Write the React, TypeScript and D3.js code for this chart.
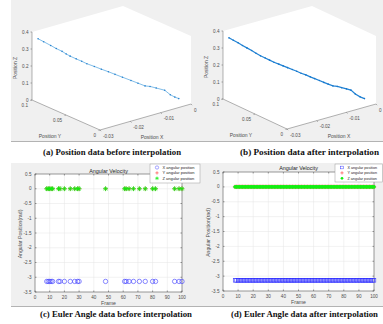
import React from "react"
import * as d3 from "d3"

// position data before interpolation (sparse samples)
const posXBefore = [-0.028, -0.0269, -0.0255, -0.0244, -0.0232, -0.0224, -0.0216, -0.0204, -0.0193, -0.0183, -0.0168, -0.0154, -0.014, -0.0127, -0.0112, -0.0095, -0.0081, -0.0067, -0.0057, -0.0045, -0.0028, -0.0017, -0.0008, 0]
const posYBefore = [0.1, 0.0967, 0.0926, 0.0893, 0.0861, 0.0836, 0.0814, 0.0779, 0.0746, 0.0715, 0.0672, 0.0631, 0.059, 0.0551, 0.0508, 0.0459, 0.0418, 0.0377, 0.0348, 0.0311, 0.0262, 0.0229, 0.0202, 0.018]
const posZBefore = [0.35, 0.333, 0.311, 0.293, 0.276, 0.261, 0.248, 0.232, 0.218, 0.204, 0.188, 0.172, 0.157, 0.142, 0.125, 0.106, 0.09, 0.074, 0.071, 0.062, 0.049, 0.023, 0.009, 0]

// position data after interpolation
const posXAfter = [-0.028, -0.0271, -0.0261, -0.0252, -0.0243, -0.0233, -0.0224, -0.0215, -0.0205, -0.0196, -0.0187, -0.0177, -0.0168, -0.0159, -0.0149, -0.014, -0.0131, -0.0121, -0.0112, -0.0103, -0.0093, -0.0084, -0.0075, -0.0065, -0.0056, -0.0047, -0.0037, -0.0028, -0.0019, -0.0009, 0]
const posYAfter = [0.1, 0.0973, 0.0945, 0.0918, 0.0891, 0.0863, 0.0836, 0.0809, 0.0781, 0.0754, 0.0727, 0.0699, 0.0672, 0.0645, 0.0617, 0.059, 0.0563, 0.0535, 0.0508, 0.0481, 0.0453, 0.0426, 0.0399, 0.0371, 0.0344, 0.0317, 0.0289, 0.0262, 0.0235, 0.0207, 0.018]
const posZAfter = [0.35, 0.336, 0.321, 0.306, 0.292, 0.277, 0.261, 0.246, 0.233, 0.221, 0.209, 0.198, 0.188, 0.178, 0.167, 0.157, 0.146, 0.136, 0.125, 0.115, 0.104, 0.093, 0.083, 0.073, 0.07, 0.063, 0.056, 0.049, 0.027, 0.01, 0]

const zTicks = [0, 0.1, 0.2, 0.3, 0.4]
const yTicks3d = [0.1, 0.05, 0]
const xTicks3d = [-0.03, -0.02, -0.01, 0]

// euler angles
const framesBefore = [8, 9, 10, 11, 12, 16, 17, 20, 24, 27, 29, 30, 48, 61, 62, 64, 67, 71, 75, 80, 82, 95, 98, 100]
const framesAfter = d3.range(8, 101)
const X_ANGLE = -3.1416
const Y_ANGLE = 0
const Z_ANGLE = 0
const angleTicks = [0.5, 0, -0.5, -1, -1.5, -2, -2.5, -3, -3.5]
const frameTicks = [0, 10, 20, 30, 40, 50, 60, 70, 80, 90, 100]
const legendNames = ["X angular position", "Y angular position", "Z angular position"]

const captions = [
  "(a) Position data before interpolation",
  "(b) Position data after interpolation",
  "(c) Euler Angle data before interpolation",
  "(d) Euler Angle data after interpolation",
]

const sans = "Liberation Sans, Arial, sans-serif"
const tickCol = "#4d4d4d"

function Position3D({ L, F, R, xs, ys, zs, thin }) {
  const su = d3.scaleLinear().domain([-0.03, 0]).range([0, 1])
  const sv = d3.scaleLinear().domain([0.1, 0]).range([0, 1])
  const sz = d3.scaleLinear().domain([0, 0.4]).range([0, 68])
  const proj = (x, y, z) => [
    L[0] + su(x) * (R[0] - F[0]) + sv(y) * (F[0] - L[0]),
    L[1] + su(x) * (R[1] - F[1]) + sv(y) * (F[1] - L[1]) - sz(z),
  ]
  const hex = [
    proj(-0.03, 0.1, 0.4), proj(0, 0.1, 0.4), proj(0, 0, 0.4),
    proj(0, 0, 0), proj(-0.03, 0, 0), proj(-0.03, 0.1, 0),
  ]
  const pts = xs.map((x, i) => proj(x, ys[i], zs[i]))
  const line = d3.line()(pts)
  const top = proj(-0.03, 0.1, 0.4)
  return (
    <g fontFamily={sans} fontSize={4.6} fill={tickCol}>
      <polygon points={hex.map(p => p.join(",")).join(" ")} fill="#fff" />
      <line x1={L[0]} y1={L[1]} x2={top[0]} y2={top[1]} stroke="#666" strokeWidth={0.5} />
      <line x1={L[0]} y1={L[1]} x2={F[0]} y2={F[1]} stroke="#666" strokeWidth={0.5} />
      <line x1={F[0]} y1={F[1]} x2={R[0]} y2={R[1]} stroke="#666" strokeWidth={0.5} />
      {zTicks.map(t => {
        const p = proj(-0.03, 0.1, t)
        return (
          <g key={"z" + t}>
            <line x1={p[0] - 1.5} y1={p[1]} x2={p[0]} y2={p[1]} stroke="#666" strokeWidth={0.5} />
            <text x={p[0] - 3.5} y={p[1] + 1.6} textAnchor="end">{t}</text>
          </g>
        )
      })}
      {yTicks3d.map(t => {
        const p = proj(-0.03, t, 0)
        return (
          <g key={"y" + t}>
            <line x1={p[0]} y1={p[1]} x2={p[0] - 1.5} y2={p[1] + 0.5} stroke="#666" strokeWidth={0.5} />
            <text x={p[0] - 4} y={p[1] + 6.6} textAnchor="end">{t}</text>
          </g>
        )
      })}
      {xTicks3d.map(t => {
        const p = proj(t, 0, 0)
        return (
          <g key={"x" + t}>
            <line x1={p[0]} y1={p[1]} x2={p[0] + 1.2} y2={p[1] + 1.2} stroke="#666" strokeWidth={0.5} />
            <text x={p[0] + 3} y={p[1] + 7.6}>{t}</text>
          </g>
        )
      })}
      <text transform={`translate(${L[0] - 15},${L[1] - 32}) rotate(-90)`} textAnchor="middle" fontSize={5}>Position Z</text>
      <text x={L[0] + 18} y={L[1] + 38} textAnchor="middle" fontSize={5}>Position Y</text>
      <text x={F[0] + 52} y={F[1] + 9} textAnchor="middle" fontSize={5}>Position X</text>
      <path d={line} fill="none" stroke={thin ? "#4aa0de" : "#2283d4"} strokeWidth={thin ? 0.7 : 1.2} />
      {pts.map((p, i) => (
        <circle key={i} cx={p[0]} cy={p[1]} r={thin ? 0.8 : 0.8} fill={thin ? "#2a84cf" : "#1677cc"} />
      ))}
    </g>
  )
}

const starPath = "M-2.4,0H2.4M0,-2.4V2.4M-1.7,-1.7L1.7,1.7M-1.7,1.7L1.7,-1.7"
const plusPath = "M-2.2,0H2.2M0,-2.2V2.2"

function Marker({ kind }) {
  if (kind === "circle") return <circle r={2.2} fill="none" stroke="#3b3bff" strokeWidth={0.6} />
  if (kind === "square") return <rect x={-1.8} y={-1.8} width={3.6} height={3.6} fill="none" stroke="#3030ff" strokeWidth={0.6} />
  if (kind === "plus") return <path d={plusPath} stroke="#ff2020" strokeWidth={0.7} />
  if (kind === "star") return <path d={starPath} stroke="#10ee10" strokeWidth={0.8} />
  return <circle r={1.8} fill="#12f012" />
}

function AnglePanel({ left, right, top, bottom, frames, xMark, zMark, legend, legendFont, titleY }) {
  const x = d3.scaleLinear().domain([0, 100]).range([left, right])
  const y = d3.scaleLinear().domain([-3.5, 0.5]).range([bottom, top])
  const cx = (left + right) / 2
  const cy = (top + bottom) / 2
  return (
    <g fontFamily={sans} fill={tickCol}>
      <rect x={left} y={top} width={right - left} height={bottom - top} fill="#fff" />
      {frameTicks.map(t => (
        <line key={"gx" + t} x1={x(t)} x2={x(t)} y1={top} y2={bottom} stroke="#e4e4e4" strokeWidth={0.5} />
      ))}
      {angleTicks.map(t => (
        <line key={"gy" + t} x1={left} x2={right} y1={y(t)} y2={y(t)} stroke="#e4e4e4" strokeWidth={0.5} />
      ))}
      <rect x={left} y={top} width={right - left} height={bottom - top} fill="none" stroke="#444" strokeWidth={0.5} />
      {frameTicks.map(t => (
        <g key={"tx" + t}>
          <line x1={x(t)} x2={x(t)} y1={bottom} y2={bottom - 1.5} stroke="#444" strokeWidth={0.5} />
          <line x1={x(t)} x2={x(t)} y1={top} y2={top + 1.5} stroke="#444" strokeWidth={0.5} />
          <text x={x(t)} y={bottom + 6.5} textAnchor="middle" fontSize={4.6}>{t}</text>
        </g>
      ))}
      {angleTicks.map(t => (
        <g key={"ty" + t}>
          <line x1={left} x2={left + 1.5} y1={y(t)} y2={y(t)} stroke="#444" strokeWidth={0.5} />
          <line x1={right} x2={right - 1.5} y1={y(t)} y2={y(t)} stroke="#444" strokeWidth={0.5} />
          <text x={left - 3.5} y={y(t) + 1.6} textAnchor="end" fontSize={4.6}>{t}</text>
        </g>
      ))}
      {frames.map(f => (
        <g key={"xa" + f} transform={`translate(${x(f)},${y(X_ANGLE)})`}><Marker kind={xMark} /></g>
      ))}
      {frames.map(f => (
        <g key={"ya" + f} transform={`translate(${x(f)},${y(Y_ANGLE)})`}><Marker kind="plus" /></g>
      ))}
      {frames.map(f => (
        <g key={"za" + f} transform={`translate(${x(f)},${y(Z_ANGLE)})`}><Marker kind={zMark} /></g>
      ))}
      <text x={cx} y={titleY} textAnchor="middle" fontSize={5.4} fill="#222">Angular Velocity</text>
      <text x={cx} y={bottom + 13} textAnchor="middle" fontSize={5.2}>Frame</text>
      <text transform={`translate(${left - 13},${cy + 1}) rotate(-90)`} textAnchor="middle" fontSize={5.2}>Angular Position(rad)</text>
      <g>
        <rect x={legend[0]} y={legend[1]} width={legend[2]} height={legend[3]} fill="#fff" stroke="#9a9a9a" strokeWidth={0.5} />
        {legendNames.map((n, i) => {
          const ly = legend[1] + 3.5 + i * 5.4
          const kind = i === 0 ? xMark : i === 1 ? "plus" : zMark
          return (
            <g key={n}>
              <g transform={`translate(${legend[0] + 7},${ly}) scale(0.75)`}><Marker kind={kind} /></g>
              <text x={legend[0] + 12.5} y={ly + 1.4} fontSize={legendFont} fill="#222">{n}</text>
            </g>
          )
        })}
      </g>
    </g>
  )
}

export default function App() {
  return (
    <svg width={383} height={324} style={{ position: "absolute", left: 0, top: 0, background: "#fff" }}>
      <rect x={11} y={0} width={372} height={141} fill="#f0f0f0" />
      <Position3D L={[223, 99]} F={[287, 129]} R={[376, 104]} xs={posXAfter} ys={posYAfter} zs={posZAfter} thin={false} />
      <Position3D L={[32, 100]} F={[100, 130]} R={[191, 104]} xs={posXBefore} ys={posYBefore} zs={posZBefore} thin={true} />
      <line x1={11} x2={383} y1={141.5} y2={141.5} stroke="#9f9f9f" strokeWidth={0.8} />

      <rect x={11} y={163} width={372} height={143} fill="#f0f0f0" />
      <AnglePanel left={223} right={374} top={172} bottom={291} frames={framesAfter} xMark="square" zMark="dot" legend={[335, 164, 47.5, 18]} legendFont={3.7} titleY={170} />
      <AnglePanel left={35} right={182} top={174} bottom={292} frames={framesBefore} xMark="circle" zMark="star" legend={[150, 164, 50, 19]} legendFont={4} titleY={172.5} />
      <line x1={11} x2={383} y1={306.5} y2={306.5} stroke="#9f9f9f" strokeWidth={0.8} />

      <g fontFamily="Liberation Serif, Times New Roman, serif" fontWeight="bold" fontSize={9} fill="#111">
        <text x={43} y={155} textLength={138} lengthAdjust="spacingAndGlyphs">{captions[0]}</text>
        <text x={240} y={155} textLength={139} lengthAdjust="spacingAndGlyphs">{captions[1]}</text>
        <text x={40} y={317} textLength={152} lengthAdjust="spacingAndGlyphs">{captions[2]}</text>
        <text x={231} y={317} textLength={147} lengthAdjust="spacingAndGlyphs">{captions[3]}</text>
      </g>
    </svg>
  )
}
